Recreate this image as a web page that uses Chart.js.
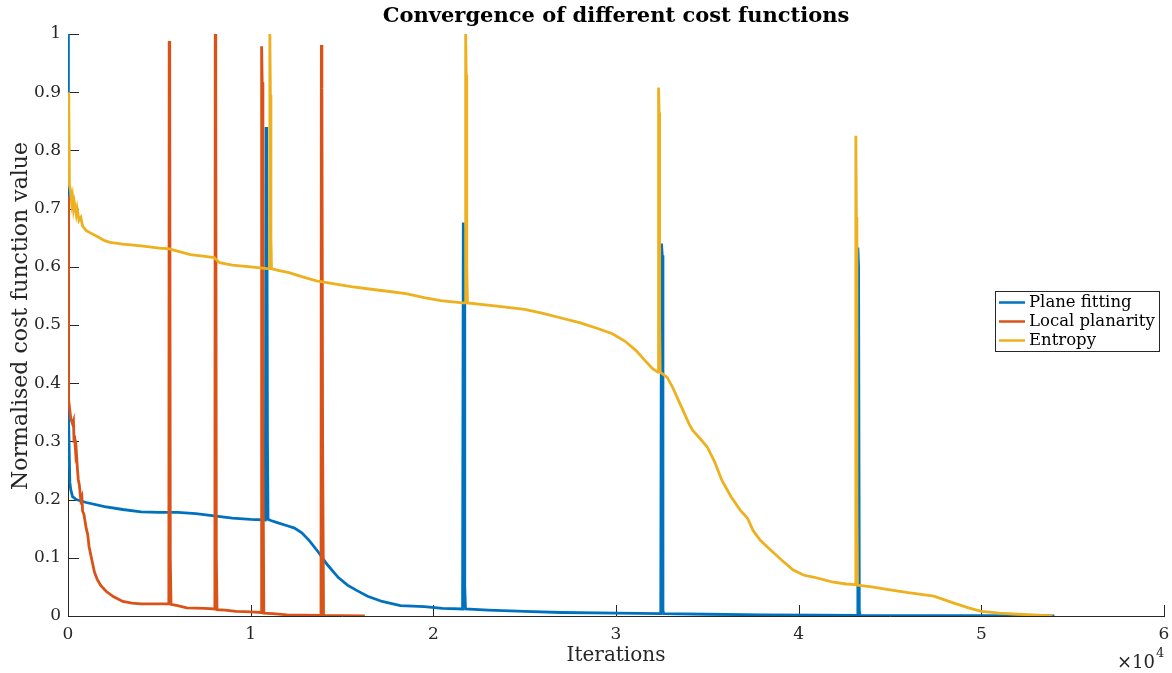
<!DOCTYPE html>
<html>
<head>
<meta charset="utf-8">
<title>Convergence of different cost functions</title>
<script src="https://cdn.jsdelivr.net/npm/chart.js@4.4.1/dist/chart.umd.min.js"></script>
<style>
  html, body { margin: 0; padding: 0; background: #ffffff; }
  #wrap { width: 1172px; height: 673px; }
</style>
</head>
<body>
<div id="wrap"><canvas id="cv" width="1172" height="673"></canvas></div>
<script>
// Iteration numbers and normalised cost values for each cost function
const planeFitX = [0, 15, 30, 100, 150, 250, 450, 1000, 2000, 3000, 4000, 5000, 6000, 7000, 8000, 9000, 10000, 10800, 10840, 10880, 10920, 10950, 11100, 11500, 12000, 12400, 12800, 13200, 13700, 14200, 14800, 15300, 15800, 16400, 17200, 18200, 19500, 20500, 21600, 21640, 21680, 21720, 21760, 23000, 25000, 27000, 30000, 32450, 32490, 32530, 32570, 32610, 35000, 38000, 41000, 43200, 43240, 43280, 43320, 43360, 46000, 50000, 54000];
const planeFitY = [1.0, 0.77, 0.35, 0.23, 0.217, 0.205, 0.2, 0.195, 0.188, 0.183, 0.179, 0.178, 0.178, 0.176, 0.172, 0.168, 0.166, 0.165, 0.84, 0.823, 0.3, 0.166, 0.164, 0.16, 0.155, 0.151, 0.143, 0.13, 0.11, 0.088, 0.066, 0.053, 0.044, 0.034, 0.025, 0.018, 0.016, 0.013, 0.012, 0.676, 0.648, 0.05, 0.012, 0.01, 0.008, 0.006, 0.005, 0.004, 0.64, 0.62, 0.01, 0.004, 0.003, 0.002, 0.0015, 0.001, 0.633, 0.6, 0.01, 0.001, 0.0008, 0.0005, 0.0];

const localPlanX = [0, 20, 40, 150, 250, 300, 330, 360, 420, 450, 500, 560, 620, 700, 760, 800, 870, 1000, 1080, 1150, 1300, 1450, 1600, 1800, 2100, 2500, 3000, 3500, 4000, 5000, 5520, 5540, 5570, 5600, 5640, 6000, 6500, 7500, 8040, 8060, 8090, 8120, 8160, 8600, 9200, 10000, 10580, 10600, 10630, 10670, 10720, 11200, 12000, 13000, 13850, 13870, 13900, 13940, 13990, 15000, 16250];
const localPlanY = [0.72, 0.5, 0.372, 0.34, 0.33, 0.335, 0.3, 0.31, 0.28, 0.285, 0.26, 0.235, 0.225, 0.2, 0.205, 0.18, 0.175, 0.15, 0.14, 0.12, 0.097, 0.075, 0.063, 0.052, 0.042, 0.033, 0.025, 0.022, 0.021, 0.021, 0.021, 0.988, 0.924, 0.1, 0.02, 0.018, 0.014, 0.013, 0.012, 1.0, 0.917, 0.1, 0.011, 0.01, 0.008, 0.007, 0.006, 0.979, 0.917, 0.3, 0.005, 0.004, 0.002, 0.0015, 0.001, 0.981, 0.907, 0.3, 0.001, 0.0005, 0.0];

const entropyX = [0, 40, 80, 150, 200, 250, 300, 350, 450, 500, 600, 700, 800, 1000, 1300, 1600, 2000, 2300, 3000, 4000, 5000, 5500, 6000, 6700, 7500, 8000, 8300, 9000, 10000, 10900, 11030, 11050, 11080, 11110, 11140, 11500, 12100, 12800, 13600, 14500, 15500, 16700, 17500, 18500, 19500, 20400, 21600, 21750, 21770, 21800, 21830, 21870, 23600, 25000, 26000, 27000, 28000, 29000, 29800, 30500, 31100, 31700, 32000, 32300, 32330, 32360, 32390, 32420, 32800, 33100, 33500, 34000, 34200, 34600, 35000, 35400, 35800, 36300, 36800, 37200, 37500, 37900, 38300, 39000, 39700, 40300, 40800, 41400, 41900, 42600, 43100, 43130, 43160, 43190, 43220, 44000, 45000, 46000, 47400, 48500, 49300, 50000, 51000, 52000, 53900];
const entropyY = [0.81, 0.9, 0.74, 0.73, 0.71, 0.72, 0.7, 0.71, 0.69, 0.7, 0.68, 0.685, 0.67, 0.662, 0.657, 0.652, 0.645, 0.642, 0.639, 0.636, 0.632, 0.631, 0.627, 0.621, 0.618, 0.616, 0.607, 0.603, 0.6, 0.597, 0.597, 1.0, 0.895, 0.65, 0.597, 0.594, 0.59, 0.583, 0.576, 0.571, 0.566, 0.561, 0.558, 0.554, 0.547, 0.542, 0.538, 0.538, 1.0, 0.93, 0.6, 0.538, 0.532, 0.527, 0.52, 0.512, 0.504, 0.494, 0.485, 0.472, 0.456, 0.435, 0.425, 0.419, 0.908, 0.865, 0.5, 0.419, 0.41, 0.393, 0.365, 0.33, 0.319, 0.305, 0.29, 0.265, 0.233, 0.205, 0.182, 0.168, 0.147, 0.13, 0.118, 0.098, 0.079, 0.07, 0.067, 0.062, 0.058, 0.055, 0.054, 0.825, 0.685, 0.2, 0.053, 0.05, 0.045, 0.04, 0.034, 0.022, 0.014, 0.008, 0.005, 0.003, 0.0];

const seriesNames = ['Plane fitting', 'Local planarity', 'Entropy'];
const seriesColors = ['#0072BD', '#D95319', '#EDB120'];

const xTickLabels = ['0', '1', '2', '3', '4', '5', '6'];
const yTickLabels = ['0', '0.1', '0.2', '0.3', '0.4', '0.5', '0.6', '0.7', '0.8', '0.9', '1'];
const chartTitle = 'Convergence of different cost functions';
const yAxisTitle = 'Normalised cost function value';

const SERIF = '"DejaVu Serif", "Liberation Serif", serif';
const AXIS_COLOR = '#262626';

function toPoints(xs, ys) {
  return xs.map((x, i) => ({ x: x, y: ys[i] }));
}

// MATLAB-style inward tick marks, drawn from the scales' own tick positions
const inwardTicks = {
  id: 'inwardTicks',
  beforeDatasetsDraw(chart) {
    const { ctx, chartArea, scales } = chart;
    const len = 11;
    ctx.save();
    ctx.strokeStyle = AXIS_COLOR;
    ctx.lineWidth = 1;
    ctx.beginPath();
    scales.x.ticks.forEach(t => {
      const px = Math.round(scales.x.getPixelForValue(t.value)) + 0.5;
      ctx.moveTo(px, chartArea.bottom);
      ctx.lineTo(px, chartArea.bottom - len);
    });
    scales.y.ticks.forEach(t => {
      const py = Math.round(scales.y.getPixelForValue(t.value)) + 0.5;
      ctx.moveTo(chartArea.left, py);
      ctx.lineTo(chartArea.left + len, py);
    });
    ctx.stroke();
    ctx.restore();
  }
};

// Title centred over the axes, y-axis label, boxed legend inside the plot, and the x10^4 exponent
const decorations = {
  id: 'decorations',
  afterDraw(chart) {
    const { ctx, chartArea } = chart;
    ctx.save();

    ctx.fillStyle = '#000000';
    ctx.textAlign = 'center';
    ctx.textBaseline = 'middle';
    ctx.font = 'bold 21px ' + SERIF;
    ctx.fillText(chartTitle, (chartArea.left + chartArea.right) / 2, 17);

    ctx.save();
    ctx.translate(21, (chartArea.top + chartArea.bottom) / 2 - 9);
    ctx.rotate(-Math.PI / 2);
    ctx.fillStyle = AXIS_COLOR;
    ctx.font = '22px ' + SERIF;
    ctx.fillText(yAxisTitle, 0, 0);
    ctx.restore();

    ctx.font = '16.5px ' + SERIF;
    const rowH = 19;
    const sample = 26;
    const gap = 4;
    let textW = 0;
    chart.data.datasets.forEach(d => { textW = Math.max(textW, ctx.measureText(d.label).width); });
    const boxW = Math.round(4 + sample + gap + textW + 4);
    const boxH = rowH * chart.data.datasets.length + 3;
    const right = chartArea.right - 5;
    const left = Math.round(right - boxW);
    const cy = (chartArea.top + chartArea.bottom) / 2 - 4;
    const top = Math.round(cy - boxH / 2);
    ctx.fillStyle = '#ffffff';
    ctx.fillRect(left, top, boxW, boxH);
    ctx.strokeStyle = AXIS_COLOR;
    ctx.lineWidth = 1;
    ctx.strokeRect(left + 0.5, top + 0.5, boxW, boxH);
    chart.data.datasets.forEach((d, i) => {
      const y = top + 2 + rowH * i + rowH / 2;
      ctx.strokeStyle = d.borderColor;
      ctx.lineWidth = 2.5;
      ctx.beginPath();
      ctx.moveTo(left + 4, y);
      ctx.lineTo(left + 4 + sample, y);
      ctx.stroke();
      ctx.fillStyle = '#000000';
      ctx.textBaseline = 'middle';
      ctx.textAlign = 'left';
      ctx.fillText(d.label, left + 4 + sample + gap, y);
    });

    // exponent of the x axis
    ctx.fillStyle = AXIS_COLOR;
    ctx.textBaseline = 'alphabetic';
    ctx.textAlign = 'right';
    ctx.font = '18px ' + SERIF;
    ctx.fillText('\u00d710', chartArea.right - 9, 668);
    ctx.textAlign = 'left';
    ctx.font = '13px ' + SERIF;
    ctx.fillText('4', chartArea.right - 8, 657);
    ctx.restore();
  }
};

const ctx = document.getElementById('cv').getContext('2d');
new Chart(ctx, {
  type: 'line',
  data: {
    datasets: [
      { label: seriesNames[0], data: toPoints(planeFitX, planeFitY), borderColor: seriesColors[0], order: 3 },
      { label: seriesNames[1], data: toPoints(localPlanX, localPlanY), borderColor: seriesColors[1], order: 2 },
      { label: seriesNames[2], data: toPoints(entropyX, entropyY), borderColor: seriesColors[2], order: 1 }
    ].map(d => Object.assign(d, {
      borderWidth: 2.8,
      pointRadius: 0,
      pointHoverRadius: 0,
      tension: 0,
      fill: false,
      borderJoinStyle: 'miter',
      backgroundColor: d.borderColor
    }))
  },
  options: {
    responsive: false,
    devicePixelRatio: 1,
    animation: false,
    events: [],
    layout: { padding: { left: 0, right: 8, top: 34, bottom: 0 } },
    plugins: {
      legend: { display: false },
      tooltip: { enabled: false },
      title: { display: false }
    },
    scales: {
      x: {
        type: 'linear',
        min: 0,
        max: 60000,
        grid: { display: true, drawOnChartArea: false, drawTicks: false },
        border: { display: true, color: AXIS_COLOR, width: 1 },
        ticks: {
          stepSize: 10000,
          color: AXIS_COLOR,
          padding: 8,
          maxRotation: 0,
          font: { family: SERIF, size: 17 },
          callback: (v, i) => xTickLabels[i]
        },
        title: {
          display: true,
          text: 'Iterations',
          color: AXIS_COLOR,
          font: { family: SERIF, size: 20 },
          padding: { top: 0, bottom: 5 }
        },
        afterFit: s => { s.height = 57; s.paddingRight = 0; s.paddingLeft = 0; }
      },
      y: {
        type: 'linear',
        min: 0,
        max: 1,
        grid: { display: true, drawOnChartArea: false, drawTicks: false },
        border: { display: true, color: AXIS_COLOR, width: 1 },
        ticks: {
          stepSize: 0.1,
          color: AXIS_COLOR,
          padding: 7,
          font: { family: SERIF, size: 17 },
          callback: (v, i) => yTickLabels[i]
        },
        title: { display: false },
        afterFit: s => { s.width = 68; }
      }
    }
  },
  plugins: [inwardTicks, decorations]
});
</script>
</body>
</html>
